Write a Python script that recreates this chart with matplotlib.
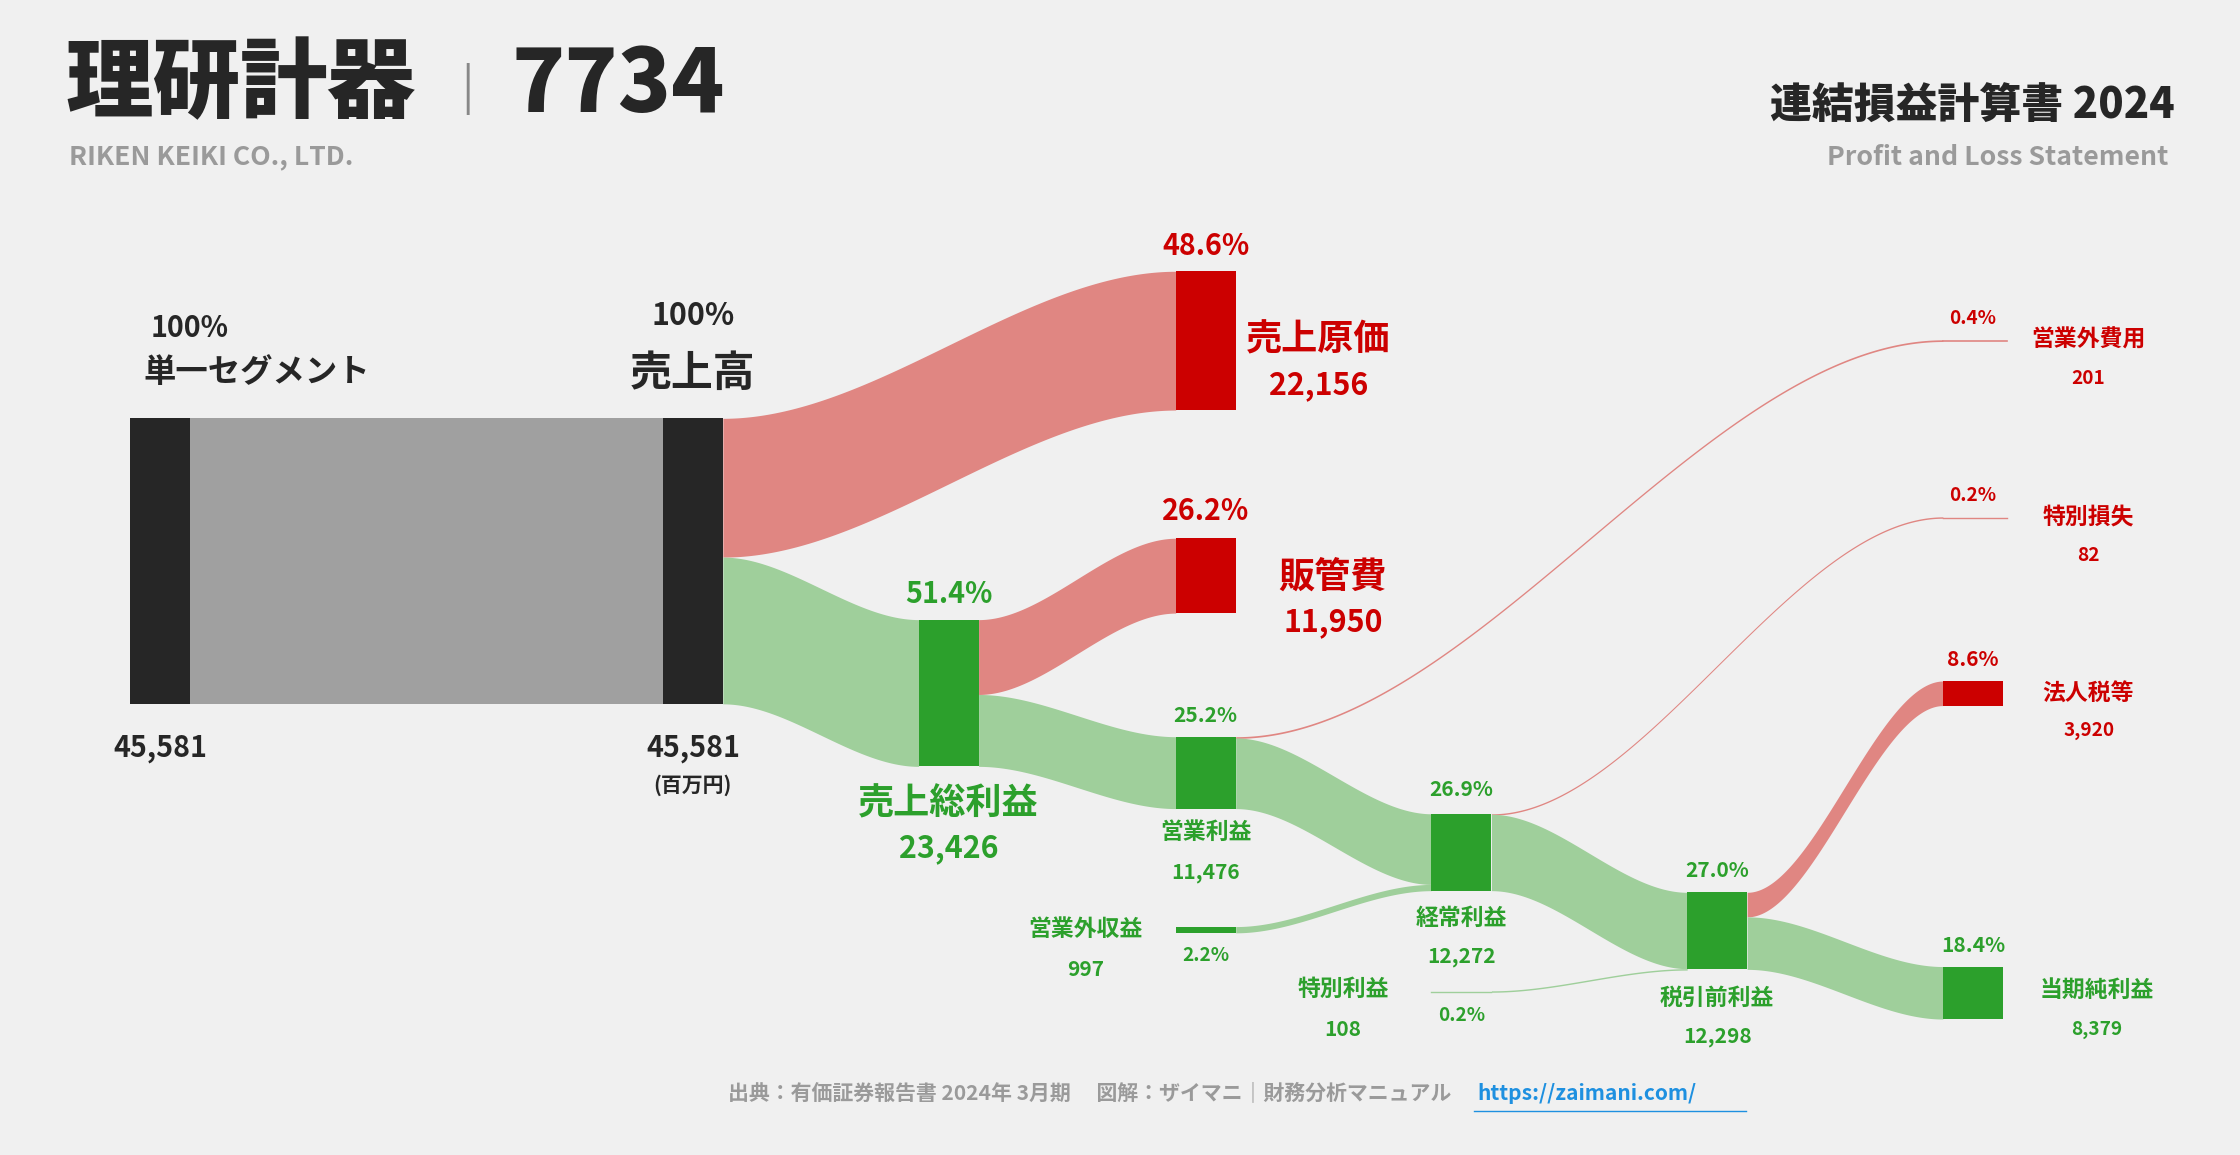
import numpy as np
import matplotlib.pyplot as plt
from matplotlib.patches import Rectangle

# values (million yen)
revenue = 45581
cost_of_sales = 22156
gross_profit = 23426
sga = 11950
operating_profit = 11476
nonop_income = 997
nonop_expense = 201
ordinary_profit = 12272
extra_gain = 108
extra_loss = 82
pretax_profit = 12298
income_tax = 3920
net_profit = 8379

BG = "#f0f0f0"
RED, RED_F = "#cc0000", "#e08682"
GRN, GRN_F = "#2ca02c", "#9fcf9b"
BLK, GRY = "#262626", "#a0a0a0"
FONT = "Noto Sans CJK JP"
plt.rcParams["font.family"] = FONT

S = 200 / revenue  # px per unit
W = 42
K = 1.37  # font scale

fig = plt.figure(figsize=(22.4, 11.55), dpi=100, facecolor=BG)
ax = fig.add_axes([0, 0, 1, 1])
ax.set_xlim(0, 1568)
ax.set_ylim(809, 0)
ax.axis("off")
ax.set_facecolor(BG)


def node(x, y, v, c, minh=0):
    h = max(v * S, minh)
    ax.add_patch(Rectangle((x, y), W, h, color=c, zorder=3, lw=0))
    return h


def flow(x0, y0, x1, y1, v, c, minh=0):
    h = max(v * S, minh)
    xs = np.linspace(x0, x1, 200)
    t = (xs - x0) / (x1 - x0)
    s = t * t * (3 - 2 * t)
    top = y0 + (y1 - y0) * s
    ax.fill_between(xs, top, top + h, color=c, lw=0, zorder=2)


# nodes
node(91, 293, revenue, BLK)
node(464, 293, revenue, BLK)
node(823, 190, cost_of_sales, RED)
node(643, 434, gross_profit, GRN)
node(823, 377, sga, RED)
node(823, 516, operating_profit, GRN)
node(823, 649, nonop_income, GRN)
node(1002, 570, ordinary_profit, GRN)
node(1181, 625, pretax_profit, GRN)
node(1360, 477, income_tax, RED)
node(1360, 677, net_profit, GRN)
ax.plot([1360, 1405], [238.5, 238.5], color=RED_F, lw=1.2)
ax.plot([1360, 1405], [362.5, 362.5], color=RED_F, lw=1.0)
ax.plot([1002, 1044], [694.5, 694.5], color=GRN_F, lw=1.0)

# flows
ax.add_patch(Rectangle((133, 293), 331, revenue * S, color=GRY, lw=0))
flow(506, 293, 823, 190, cost_of_sales, RED_F)
flow(506, 293 + cost_of_sales * S, 643, 434, gross_profit, GRN_F)
flow(685, 434, 823, 377, sga, RED_F)
flow(685, 434 + sga * S, 823, 516, operating_profit, GRN_F)
flow(865, 516, 1360, 238, nonop_expense, RED_F, 1.2)
flow(865, 516 + nonop_expense * S, 1002, 570, operating_profit - nonop_expense, GRN_F)
flow(865, 649, 1002, 570 + (operating_profit - nonop_expense) * S, nonop_income, GRN_F)
flow(1044, 570, 1360, 362, extra_loss, RED_F, 1.0)
flow(1044, 570 + extra_loss * S, 1181, 625, ordinary_profit - extra_loss, GRN_F)
flow(1044, 694, 1181, 625 + (ordinary_profit - extra_loss) * S, extra_gain, GRN_F, 1.0)
flow(1223, 625, 1360, 477, income_tax, RED_F)
flow(1223, 625 + income_tax * S, 1360, 677, net_profit, GRN_F)


def txt(x, y, s, size, c=BLK, ha="center", w="bold", **kw):
    ax.text(x, y, s, fontsize=size * K, color=c, ha=ha, va="center", fontweight=w, **kw)


def pct(v):
    return f"{v / revenue * 100:.1f}%"


# header
txt(46, 60, "理研計器", 46, ha="left", w="black")
txt(327, 62, "|", 24, c="#888888", ha="center", w="normal")
txt(358, 60, "7734", 46, ha="left", w="black")
txt(48, 110, "RIKEN KEIKI CO., LTD.", 14, c="#9a9a9a", ha="left")
txt(1522, 74, "連結損益計算書 2024", 22, ha="right", w="black")
txt(1518, 110, "Profit and Loss Statement", 14, c="#9a9a9a", ha="right")

# labels
txt(133, 230, "100%", 15)
txt(180, 261, "単一セグメント", 17)
txt(485, 221, "100%", 16)
txt(485, 262, "売上高", 22)
txt(112, 524, f"{revenue:,}", 15)
txt(485, 524, f"{revenue:,}", 15)
txt(485, 550, "(百万円)", 11)
txt(844, 172, pct(cost_of_sales), 15, c=RED)
txt(923, 238, "売上原価", 19, c=RED)
txt(923, 270, f"{cost_of_sales:,}", 16, c=RED)
txt(844, 358, pct(sga), 15, c=RED)
txt(933, 404, "販管費", 19, c=RED)
txt(933, 436, f"{sga:,}", 16, c=RED)
txt(664, 416, pct(gross_profit), 15, c=GRN)
txt(664, 563, "売上総利益", 19, c=GRN)
txt(664, 594, f"{gross_profit:,}", 16, c=GRN)
txt(844, 501, pct(operating_profit), 11, c=GRN)
txt(844, 583, "営業利益", 12, c=GRN)
txt(844, 611, f"{operating_profit:,}", 11, c=GRN)
txt(1023, 553, pct(12255), 11, c=GRN)
txt(1023, 643, "経常利益", 12, c=GRN)
txt(1023, 670, f"{ordinary_profit:,}", 11, c=GRN)
txt(1202, 610, pct(12307), 11, c=GRN)
txt(1202, 699, "税引前利益", 12, c=GRN)
txt(1202, 726, f"{pretax_profit:,}", 11, c=GRN)
txt(760, 651, "営業外収益", 12, c=GRN)
txt(760, 679, f"{nonop_income:,}", 11, c=GRN)
txt(844, 669, pct(nonop_income), 10, c=GRN)
txt(940, 693, "特別利益", 12, c=GRN)
txt(940, 721, f"{extra_gain:,}", 11, c=GRN)
txt(1023, 711, pct(extra_gain), 10, c=GRN)
txt(1381, 223, pct(nonop_expense), 10, c=RED)
txt(1462, 238, "営業外費用", 12, c=RED)
txt(1462, 265, f"{nonop_expense:,}", 10, c=RED)
txt(1381, 347, pct(extra_loss), 10, c=RED)
txt(1462, 362, "特別損失", 12, c=RED)
txt(1462, 389, f"{extra_loss:,}", 10, c=RED)
txt(1381, 462, pct(income_tax), 11, c=RED)
txt(1462, 486, "法人税等", 12, c=RED)
txt(1462, 512, f"{income_tax:,}", 10, c=RED)
txt(1381, 662, pct(net_profit), 11, c=GRN)
txt(1468, 694, "当期純利益", 12, c=GRN)
txt(1468, 721, f"{net_profit:,}", 10, c=GRN)

# footer
txt(1016, 766, "出典：有価証券報告書 2024年 3月期　 図解：ザイマニ｜財務分析マニュアル", 11,
    c="#9a9a9a", ha="right")
txt(1034, 766, "https://zaimani.com/", 11, c="#1e90e0", ha="left")
ax.plot([1032, 1222], [778, 778], color="#1e90e0", lw=1)

fig.savefig("out.png", dpi=100, facecolor=BG)
